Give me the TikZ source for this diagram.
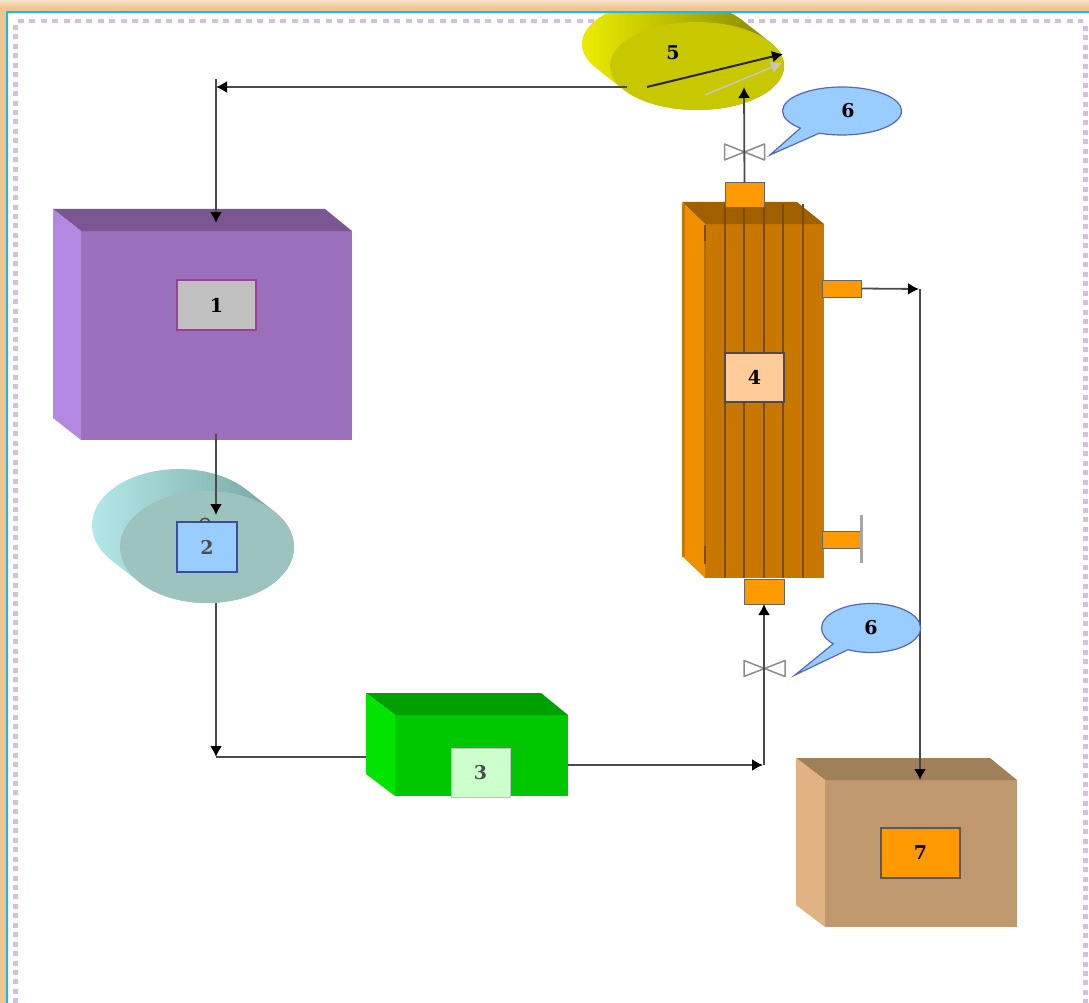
\documentclass[tikz,border=0pt]{standalone}
\usepackage{fontspec}
\newfontfamily\tagfont{DejaVu Serif}
\usetikzlibrary{calc,arrows.meta,shapes.geometric,shapes.callouts}

\definecolor{bandtop}{HTML}{F8E2CC}
\definecolor{bandlow}{HTML}{F0C48E}
\definecolor{bandcyan}{HTML}{12BDEB}
\definecolor{dots}{HTML}{D8BEDE}
\definecolor{pipe}{HTML}{4A4A4A}
\definecolor{stripe}{HTML}{7A4C00}
\definecolor{flange}{HTML}{FF9900}
\definecolor{bubble}{HTML}{99CCFF}
\definecolor{bubbleline}{HTML}{5566BB}
\definecolor{plumF}{HTML}{9A6FBB}
\definecolor{plumT}{HTML}{7A5792}
\definecolor{plumL}{HTML}{B388E0}
\definecolor{greenF}{HTML}{00C800}
\definecolor{greenT}{HTML}{00A000}
\definecolor{greenL}{HTML}{00E400}
\definecolor{tanF}{HTML}{BF9870}
\definecolor{tanT}{HTML}{A08058}
\definecolor{tanL}{HTML}{E2B382}
\definecolor{woodF}{HTML}{C87800}
\definecolor{woodT}{HTML}{A06000}
\definecolor{woodL}{HTML}{F09000}
\definecolor{tealA}{HTML}{B4E8E8}
\definecolor{tealB}{HTML}{70A09C}
\definecolor{tealF}{HTML}{9DC3BF}
\definecolor{oliveA}{HTML}{ECEC00}
\definecolor{oliveB}{HTML}{808000}
\definecolor{oliveF}{HTML}{C8C800}
\definecolor{tagblue}{HTML}{3A4CA8}
\definecolor{tagplum}{HTML}{A03C9C}
\definecolor{taggrey}{HTML}{C0C0C0}
\definecolor{taggreen}{HTML}{CCFFCC}
\definecolor{tagpeach}{HTML}{FFCC99}

\tikzset{
    face/.style={draw=none,inner sep=0,outer sep=0},
    tag/.style={inner sep=0,outer sep=0,line width=1.5pt,font=\tagfont\bfseries\fontsize{19}{19}\selectfont},
    stub/.style={face,draw=black!60,line width=1pt,fill=flange},
    pipeline/.style={draw=pipe,line width=1.8pt},
    valve/.style={draw=black!45,line width=1.5pt,fill=white,line join=round},
    talk/.style={ellipse callout,draw=bubbleline,line width=1.2pt,fill=bubble,inner sep=0,callout pointer arc=22,font=\tagfont\bfseries\fontsize{19}{19}\selectfont}
}

% front face is a node, the other two faces hang on its corners
\newcommand{\cuboid}[9]{
    \node[face,fill=#7,minimum width=#4,minimum height=#5] (#1) at (#2,#3) {};
    \fill[#8] (#1.north west) -- ++ (-#6,-22) -- ($(#1.north east)+(-27,-22)$) -- (#1.north east) -- cycle;
    \fill[#9] (#1.north west) -- ++ (-#6,-22) -- ($(#1.south west)+(-#6,-22)$) -- (#1.south west) -- cycle;
}
% tilted drum: back ellipse, hull and front ellipse
\newcommand{\drum}[8]{
    \path[left color=#5,right color=#6]
        plot[domain=#4:#4-180,samples=40] ({#1-28+87*cos(\x)},{#2-22+#3*sin(\x)})
        -- plot[domain=#4+180:#4,samples=40] ({#1+87*cos(\x)},{#2+#3*sin(\x)}) -- cycle;
    \node[face,ellipse,fill=#7,minimum width=174,minimum height=2*#3] (#8) at (#1,#2) {};
}

\begin{document}
\begin{tikzpicture}[x=1pt,y=-1pt,>={Latex[length=11pt,width=12pt,color=black]}]
    \useasboundingbox (0,0) rectangle (1089,1003);
    \fill[white] (0,0) rectangle (1089,1003);

    % frame
    \draw[dots,line width=3.5pt,dash pattern=on 6pt off 5.4pt] (18,21) -- (1083,21);
    \draw[dots,line width=5pt,dash pattern=on 5pt off 4.45pt] (15,25) -- (15,1003);
    \draw[dots,line width=5pt,dash pattern=on 5pt off 4.45pt] (1085.5,26) -- (1085.5,1003);

    % shapes
    \cuboid{boxOne}{216.5}{335.5}{271}{209}{28}{plumF}{plumT}{plumL}
    \cuboid{boxThree}{481.5}{755.5}{173}{81}{29}{greenF}{greenT}{greenL}
    \cuboid{boxSeven}{921}{853.5}{192}{147}{29}{tanF}{tanT}{tanL}
    \cuboid{towerFour}{764.5}{401}{119}{354}{23}{woodF}{woodT}{woodL}
    \draw[draw=woodF,line width=3pt] (683,204) -- (683,557);

    \drum{207}{547}{56}{-39.3}{tealA}{tealB}{tealF}{drumTwo}
    \drum{697}{66}{44}{-32.8}{oliveA}{oliveB}{oliveF}{drumFive}

    % tower stripes
    \foreach \xs in {725,744,764,783,803}
        \draw[stripe,line width=2.6pt] (\xs,204) -- (\xs,578);
    \draw[stripe,line width=2.6pt] (705,225) -- (705,241);
    \draw[stripe,line width=2.6pt] (705,546) -- (705,564);
    \draw[stripe!30!woodF,line width=1.5pt] (705,241) -- (705,546);

    % stubs on the tower
    \node[stub,minimum width=39,minimum height=25] (stubTop) at (744.5,195.5) {};
    \node[stub,minimum width=40,minimum height=25] (stubLow) at (764,591.5) {};
    \node[stub,minimum width=39,minimum height=17] (stubOut) at (842,288.5) {};
    \node[stub,minimum width=39,minimum height=17] (stubEnd) at (842,539.5) {};
    \coordinate (capA) at (861.5,515);
    \coordinate (capB) at (861.5,563);
    \draw[black!35,line width=2.5pt] (capA) -- (capB);

    % free ends of the connectors
    \coordinate (feedFive) at (627,87);
    \coordinate (cornerOne) at (216,87);
    \coordinate (cornerTop) at (216,79);
    \coordinate (tipOne) at (216,223);
    \coordinate (leaveOne) at (216,434);
    \coordinate (tipTwo) at (216,515);
    \coordinate (leaveTwo) at (216,603);
    \coordinate (cornerTwo) at (216,757);
    \coordinate (leaveThree) at (568,765);
    \coordinate (cornerThree) at (764,765);
    \coordinate (tipFive) at (744,87);
    \coordinate (tipLow) at (764,604);
    \coordinate (cornerOut) at (920,289);
    \coordinate (tipSeven) at (920,780);
    \coordinate (valveTop) at (744.5,152);
    \coordinate (valveLow) at (764,668.5);

    % valves
    \draw[valve] (valveTop) ++ (-20,-8) -- ++ (40,16) -- ++ (0,-16) -- ++ (-40,16) -- cycle;
    \draw[valve] (valveLow) ++ (-20,-8) -- ++ (41,16) -- ++ (0,-16) -- ++ (-41,16) -- cycle;

    % connectors
    \draw[pipeline,->] (feedFive) -- (cornerOne);
    \draw[pipeline,->] (cornerTop) -- (tipOne);
    \draw[pipeline,->] (leaveOne) -- (tipTwo);
    \draw[pipeline,->] (leaveTwo) -- (cornerTwo);
    \draw[pipeline] (cornerTwo) -- ++ (150,0);
    \draw[pipeline,->] (leaveThree) -- ($(cornerThree)+(-1,0)$);
    \draw[pipeline,->] (cornerThree) -- (tipLow);
    \draw[pipeline,->] (stubTop.north) -- (tipFive);
    \draw[pipeline,->] (stubOut.east) -- ($(cornerOut)+(-1,0)$);
    \draw[pipeline,->] (cornerOut) -- (tipSeven);

    % arrows on the drum
    \coordinate (gaugeA) at (647,87);
    \coordinate (gaugeB) at (783,54);
    \coordinate (shadeA) at (705,95);
    \coordinate (shadeB) at (782,63);
    \draw[black!22,line width=1.5pt,-{Latex[length=11pt,width=12pt,color=black!22]}] (shadeA) -- (shadeB);
    \draw[black!85,line width=2pt,->] (gaugeA) -- (gaugeB);

    % box 2 sits on top of the incoming arrow
    \draw[black!70,line width=1.5pt] (200,522) .. controls (202,517) and (208,517) .. (210,522);
    \node[tag,draw=tagblue,fill=bubble,text=black!70,minimum width=60,minimum height=50] (tagTwo) at (207,547) {2};
    \node[tag,draw=tagplum,fill=taggrey,minimum width=79,minimum height=50] (tagOne) at (216.5,305) {1};
    \node[tag,draw=black!25,line width=1pt,fill=taggreen,text=black!70,minimum width=59,minimum height=49] (tagThree) at (480.5,772.5) {3};
    \node[tag,draw=black!70,fill=tagpeach,minimum width=59,minimum height=49] (tagFour) at (754.5,377.5) {4};
    \node[tag,draw=black!65,fill=flange,minimum width=79,minimum height=50] (tagSeven) at (920.5,853) {7};
    \node[tag] (tagFive) at (673,53) {5};

    % call-outs
    \node[talk,minimum width=119,minimum height=48,callout absolute pointer={(770,155)}] (talkTop) at (842,111) {\hspace*{12pt}6};
    \node[talk,minimum width=99,minimum height=49,callout absolute pointer={(795,675)}] (talkLow) at (871,628) {6};

    % window band stays above everything
    \shade[top color=bandtop,bottom color=bandlow] (0,0) rectangle (1089,8);
    \fill[bandlow] (0,8) rectangle (1089,11);
    \fill[bandlow] (0,11) rectangle (5.5,1003);
    \fill[bandcyan] (5.5,11) rectangle (1089,13.5);
    \fill[bandcyan] (5.5,11) rectangle (7.5,1003);
\end{tikzpicture}
\end{document}
